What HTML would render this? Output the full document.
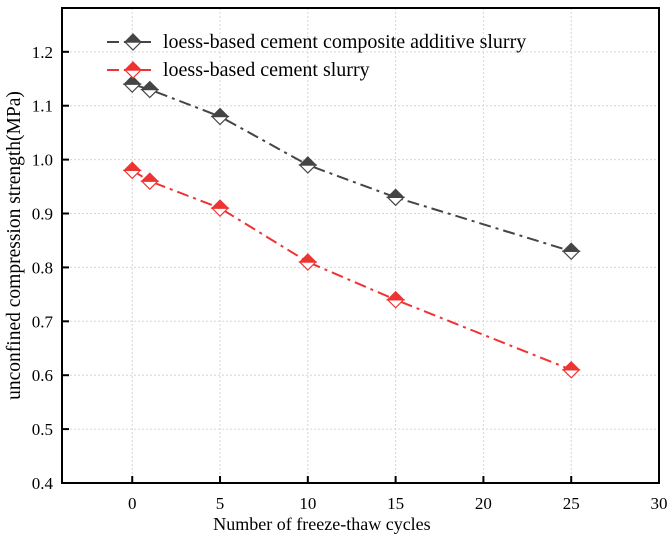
<!DOCTYPE html>
<html><head><meta charset="utf-8"><style>
body{margin:0;background:#fff}
svg text{font-family:"Liberation Serif",serif;fill:#000}
</style></head><body>
<svg id="chart" width="669" height="538" xmlns="http://www.w3.org/2000/svg"></svg>
<script>
const cycles=[0,1,5,10,15,25];
const compositeValues=[1.14,1.13,1.08,0.99,0.93,0.83];
const slurryValues=[0.98,0.96,0.91,0.81,0.74,0.61];
const xTicks=[0,5,10,15,20,25,30];
const yTicks=[0.4,0.5,0.6,0.7,0.8,0.9,1.0,1.1,1.2];
const seriesNames=["loess-based cement composite additive slurry","loess-based cement slurry"];
const L=62,R=659,T=8,B=483;
const xMin=-4,xMax=30,yMin=0.4,yMax=1.2813;
const sx=v=>L+(v-xMin)/(xMax-xMin)*(R-L);
const sy=v=>B-(v-yMin)/(yMax-yMin)*(B-T);
const svg=document.getElementById('chart');
const NS='http://www.w3.org/2000/svg';
function mk(tag,attrs,parent){const e=document.createElementNS(NS,tag);for(const k in attrs)e.setAttribute(k,attrs[k]);(parent||svg).appendChild(e);return e;}
const grid=mk('g',{});


xTicks.forEach(t=>{if(t<xMax)mk('line',{x1:sx(t),x2:sx(t),y1:T,y2:B,stroke:'#d6d6d6','stroke-dasharray':'2,2','stroke-width':1},grid);});
yTicks.forEach(t=>{if(t>yMin)mk('line',{x1:L,x2:R,y1:sy(t),y2:sy(t),stroke:'#d6d6d6','stroke-dasharray':'2,2','stroke-width':1},grid);});
const frame=mk('rect',{x:L,y:T,width:R-L,height:B-T,fill:'none',stroke:'#000','stroke-width':2});


xTicks.forEach(t=>{
 mk('line',{x1:sx(t),x2:sx(t),y1:B,y2:B-7,stroke:'#000','stroke-width':2});
 const tx=mk('text',{x:sx(t),y:B+26,'text-anchor':'middle','font-size':17});
 tx.textContent=t;
 
 
});
yTicks.forEach(t=>{
 mk('line',{x1:L,x2:L+7,y1:sy(t),y2:sy(t),stroke:'#000','stroke-width':2});
 const tx=mk('text',{x:L-9,y:sy(t)+6,'text-anchor':'end','font-size':17});
 tx.textContent=t.toFixed(1);
 
 
});
const xt=mk('text',{x:322,y:530,'text-anchor':'middle','font-size':18});
xt.textContent='Number of freeze-thaw cycles';


const yt=mk('text',{x:0,y:0,'text-anchor':'middle','font-size':19.5,transform:`translate(20,${(T+B)/2}) rotate(-90)`});
yt.textContent='unconfined compression strength(MPa)';


function marker(g,x,y,c){
 const s=8;
 mk('path',{d:`M${x-s},${y} L${x},${y+s} L${x+s},${y} Z`,fill:'#fff',stroke:c,'stroke-width':1.2},g);
 mk('path',{d:`M${x-s},${y} L${x},${y-s} L${x+s},${y} Z`,fill:c,stroke:c,'stroke-width':1.2},g);
}
function series(vals,c,name){
 const g=mk('g',{});
 
 
 mk('polyline',{points:cycles.map((x,i)=>sx(x)+','+sy(vals[i])).join(' '),fill:'none',stroke:c,'stroke-width':2,'stroke-dasharray':'12,5,3,5'},g);
 cycles.forEach((x,i)=>marker(g,sx(x),sy(vals[i]),c));
}
series(compositeValues,'#454545','series-composite-slurry');
series(slurryValues,'#ee3333','series-cement-slurry');
const colors=['#454545','#ee3333'];
seriesNames.forEach((n,i)=>{
 const g=mk('g',{});
 
 
 const y=42+i*28;
 mk('line',{x1:107,x2:151,y1:y,y2:y,stroke:colors[i],'stroke-width':2,'stroke-dasharray':'12,5,30'},g);
 marker(g,133,y,colors[i]);
 const t=mk('text',{x:163,y:y+6,'font-size':20},g);
 t.textContent=n;
});
</script>
</body></html>
